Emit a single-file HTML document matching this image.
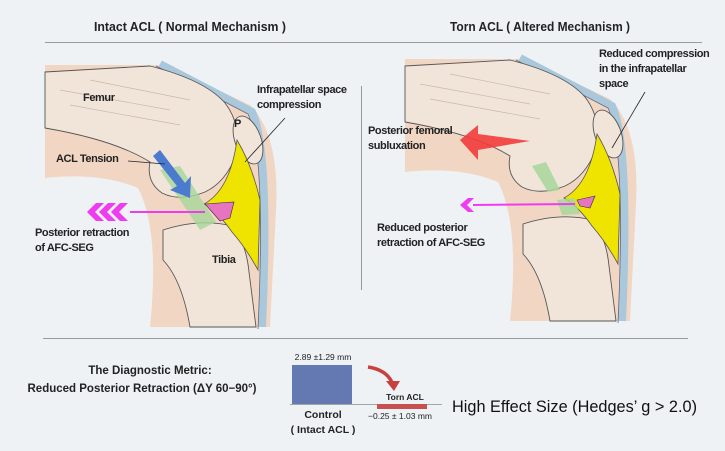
<!DOCTYPE html>
<html><head><meta charset="utf-8"><style>
html,body{margin:0;padding:0;background:#eef2f5;}
svg{display:block;font-family:"Liberation Sans",Arial,sans-serif;}
</style></head><body>
<svg width="725" height="451" viewBox="0 0 725 451" xmlns="http://www.w3.org/2000/svg">
<rect width="725" height="451" fill="#eef2f5"/>
<text x="190" y="31" font-size="12.5" font-weight="bold" text-anchor="middle" fill="#222" textLength="192" lengthAdjust="spacingAndGlyphs">Intact ACL ( Normal Mechanism )</text>
<text x="540" y="31" font-size="12.5" font-weight="bold" text-anchor="middle" fill="#222" textLength="180" lengthAdjust="spacingAndGlyphs">Torn ACL ( Altered Mechanism )</text>
<line x1="45" y1="42.5" x2="702" y2="42.5" stroke="#9a9a9a" stroke-width="1"/>
<line x1="361.5" y1="86" x2="361.5" y2="290" stroke="#9a9a9a"/>
<line x1="43" y1="338.5" x2="688" y2="338.5" stroke="#9a9a9a"/>

<defs>
<g id="knee">
  <path d="M45,65 L165,65 L250,105 Q280,135 276,210 L270,327 L45,327 Z" fill="#f2d6c4"/>
  <path d="M45,178 Q100,172 138,188 Q160,230 150,327 L45,327 Z" fill="#eef2f5"/>
  <path d="M160,64 L252,112 Q270,150 262,327" fill="none" stroke="#a9c8db" stroke-width="8"/>
  <path d="M160,64 L252,112 Q270,150 262,327" fill="none" stroke="#667" stroke-width="0.8" transform="translate(-4,2)"/>
  <path d="M45,72 L150,66 Q205,80 225,103 Q242,125 236,155 Q226,182 205,192 Q180,202 162,193 Q146,182 150,162 Q115,140 45,128 Z" fill="#f1e5da" stroke="#555" stroke-width="0.9"/>
  <path d="M60,90 L170,110 M70,105 L180,125 M90,80 L190,100" stroke="#c8b8a8" stroke-width="0.7"/>
  <path d="M163,230 Q200,218 232,226 Q246,242 249,272 L256,327 L190,327 Q182,280 163,260 Z" fill="#f1e5da" stroke="#555" stroke-width="0.9"/>
  <ellipse cx="248" cy="140" rx="13" ry="25" transform="rotate(-20 248 140)" fill="#f1e5da" stroke="#555" stroke-width="0.9"/>
  <path d="M237,140 Q252,165 260,200 L258,270 Q246,248 232,232 Q218,212 204,204 Q230,190 237,140 Z" fill="#efe300" stroke="#555" stroke-width="0.8"/>
</g>
</defs>

<use href="#knee"/>
<path d="M160,170 L180,166 L216,222 L200,230 Z" fill="#a7d79a" opacity="0.8"/>
<path d="M160,150 L185,183 L191,176 L190,198 L170,190 L177,186 L153,156 Z" fill="#4a7bcf"/>
<path d="M205,204 L234,202 L230,218 L220,221 Z" fill="#e674c0" stroke="#333" stroke-width="0.6"/>
<line x1="130" y1="212" x2="205" y2="212" stroke="#f03cf0" stroke-width="2"/>
<g fill="#f03cf0">
<path d="M96,203 L104,203 L95,212 L104,221 L96,221 L87,212 Z"/>
<path d="M108,203 L116,203 L107,212 L116,221 L108,221 L99,212 Z"/>
<path d="M120,203 L128,203 L119,212 L128,221 L120,221 L111,212 Z"/>
</g>
<line x1="128" y1="161" x2="165" y2="164" stroke="#222" stroke-width="0.8"/>
<line x1="245" y1="162" x2="285" y2="118" stroke="#222" stroke-width="0.8"/>
<g font-size="11" fill="#222" font-weight="bold" letter-spacing="-0.4">
<text x="83" y="101">Femur</text>
<text x="56" y="162">ACL Tension</text>
<text x="35" y="236">Posterior retraction</text>
<text x="35" y="251">of AFC-SEG</text>
<text x="212" y="263">Tibia</text>
<text x="257" y="93">Infrapatellar space</text>
<text x="257" y="108">compression</text>
<text x="234" y="127">P</text>
</g>

<g transform="translate(360,-6)">
<use href="#knee"/>
</g>
<path d="M532,166 L546,162 L560,190 L548,192 Z" fill="#a7d79a" opacity="0.85"/>
<path d="M557,200 L574,198 L580,214 L562,215 Z" fill="#a7d79a" opacity="0.85"/>
<path d="M577,200 L595,196 L590,208 L580,206 Z" fill="#e674c0" stroke="#333" stroke-width="0.6"/>
<path d="M460,140 L478,125 L478,134 L530,141 L478,150 L478,160 Z" fill="#f23b3b" opacity="0.9"/>
<line x1="473" y1="205" x2="575" y2="204" stroke="#f03cf0" stroke-width="2"/>
<path d="M460,205 L468,198 L474,198 L467,205 L474,212 L468,212 Z" fill="#f03cf0"/>
<line x1="612" y1="148" x2="645" y2="92" stroke="#222" stroke-width="0.8"/>
<g font-size="11" fill="#222" font-weight="bold" letter-spacing="-0.4">
<text x="368" y="134">Posterior femoral</text>
<text x="368" y="149">subluxation</text>
<text x="377" y="231">Reduced posterior</text>
<text x="377" y="246">retraction of AFC-SEG</text>
<text x="599" y="57">Reduced compression</text>
<text x="599" y="72">in the infrapatellar</text>
<text x="599" y="87">space</text>
</g>

<g font-size="11.5" font-weight="bold" fill="#222" text-anchor="middle">
<text x="150" y="374">The Diagnostic Metric:</text>
<text x="142" y="392">Reduced Posterior Retraction (ΔY 60−90°)</text>
</g>
<rect x="292" y="365" width="60" height="39" fill="#6478b2"/>
<line x1="290" y1="404.5" x2="442" y2="404.5" stroke="#9aa" stroke-width="1"/>
<rect x="377" y="404" width="50" height="5" fill="#c95050"/>
<path d="M368,367 Q388,370 393,385" fill="none" stroke="#c84040" stroke-width="3.5"/>
<path d="M386,381 L400,381 L394,391 Z" fill="#c84040"/>
<g font-size="8.5" fill="#222" text-anchor="middle">
<text x="323" y="360">2.89 ±1.29 mm</text>
<text x="405" y="400" font-weight="bold">Torn ACL</text>
<text x="400" y="419">−0.25 ± 1.03 mm</text>
</g>
<g font-size="10.5" font-weight="bold" fill="#222" text-anchor="middle">
<text x="323" y="418">Control</text>
<text x="323" y="433">( Intact ACL )</text>
</g>
<text x="452" y="412" font-size="17" fill="#111" textLength="245" lengthAdjust="spacingAndGlyphs">High Effect Size (Hedges’ g &gt; 2.0)</text>
</svg>
</body></html>
